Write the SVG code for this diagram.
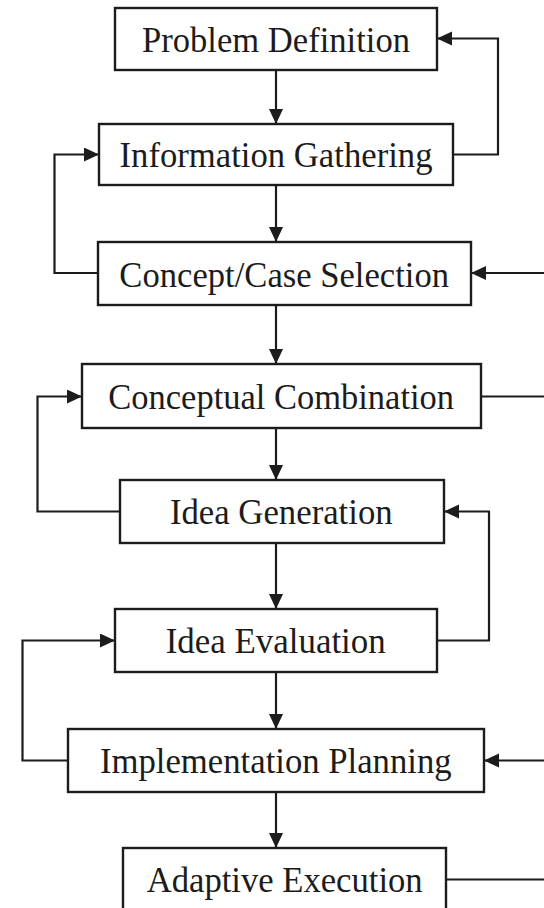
<svg xmlns="http://www.w3.org/2000/svg" width="544" height="908" viewBox="0 0 544 908">
<style>
.box{fill:#fff;stroke:#1c1c1c;stroke-width:2.4}
.lbl{font-family:"Liberation Serif","Times New Roman",serif;font-size:35.5px;fill:#1c1c1c;text-anchor:middle}
.c{fill:none;stroke:#1c1c1c;stroke-width:2.2}
</style>
<defs>
<marker id="ah" markerUnits="userSpaceOnUse" markerWidth="16" markerHeight="15" refX="15" refY="7" orient="auto">
<path d="M0,0 L15,7 L0,14 z" fill="#1c1c1c"/>
</marker>
</defs>
<rect width="544" height="908" fill="#fff"/>
<g id="connectors">
<path class="c" d="M276,70 V124" marker-end="url(#ah)"/>
<path class="c" d="M276,185 V242" marker-end="url(#ah)"/>
<path class="c" d="M276,305 V364" marker-end="url(#ah)"/>
<path class="c" d="M276,428 V480" marker-end="url(#ah)"/>
<path class="c" d="M276,543 V609" marker-end="url(#ah)"/>
<path class="c" d="M276,672 V729" marker-end="url(#ah)"/>
<path class="c" d="M276,792 V848" marker-end="url(#ah)"/>
<path class="c" d="M453,154.5 H498 V38.5 H437" marker-end="url(#ah)"/>
<path class="c" d="M98,273 H54.5 V154.5 H99" marker-end="url(#ah)"/>
<path class="c" d="M544,273 H471" marker-end="url(#ah)"/>
<path class="c" d="M481,396.5 H544"/>
<path class="c" d="M120,511.5 H37.5 V396.5 H82" marker-end="url(#ah)"/>
<path class="c" d="M437,640.5 H489 V511.5 H444" marker-end="url(#ah)"/>
<path class="c" d="M68,760.5 H22.5 V640.5 H115" marker-end="url(#ah)"/>
<path class="c" d="M544,760.5 H484" marker-end="url(#ah)"/>
<path class="c" d="M446,879.5 H544"/>
</g>
<g id="problem-definition">
<rect class="box" x="115" y="8" width="322" height="62"/>
<text class="lbl" x="276" y="52" textLength="268" lengthAdjust="spacingAndGlyphs">Problem Definition</text>
</g>
<g id="information-gathering">
<rect class="box" x="99" y="124" width="354" height="61"/>
<text class="lbl" x="276" y="167" textLength="313" lengthAdjust="spacingAndGlyphs">Information Gathering</text>
</g>
<g id="concept-case-selection">
<rect class="box" x="98" y="242" width="373" height="63"/>
<text class="lbl" x="284.2" y="287" textLength="329.7" lengthAdjust="spacingAndGlyphs">Concept/Case Selection</text>
</g>
<g id="conceptual-combination">
<rect class="box" x="82" y="364" width="399" height="64"/>
<text class="lbl" x="281.2" y="409" textLength="345.7" lengthAdjust="spacingAndGlyphs">Conceptual Combination</text>
</g>
<g id="idea-generation">
<rect class="box" x="120" y="480" width="324" height="63"/>
<text class="lbl" x="281.3" y="524" textLength="222.7" lengthAdjust="spacingAndGlyphs">Idea Generation</text>
</g>
<g id="idea-evaluation">
<rect class="box" x="115" y="609" width="322" height="63"/>
<text class="lbl" x="275.7" y="653" textLength="220" lengthAdjust="spacingAndGlyphs">Idea Evaluation</text>
</g>
<g id="implementation-planning">
<rect class="box" x="68" y="729" width="416" height="63"/>
<text class="lbl" x="275.8" y="773" textLength="351.7" lengthAdjust="spacingAndGlyphs">Implementation Planning</text>
</g>
<g id="adaptive-execution">
<rect class="box" x="123" y="848" width="323" height="63"/>
<text class="lbl" x="284.7" y="892" textLength="276" lengthAdjust="spacingAndGlyphs">Adaptive Execution</text>
</g>
</svg>
